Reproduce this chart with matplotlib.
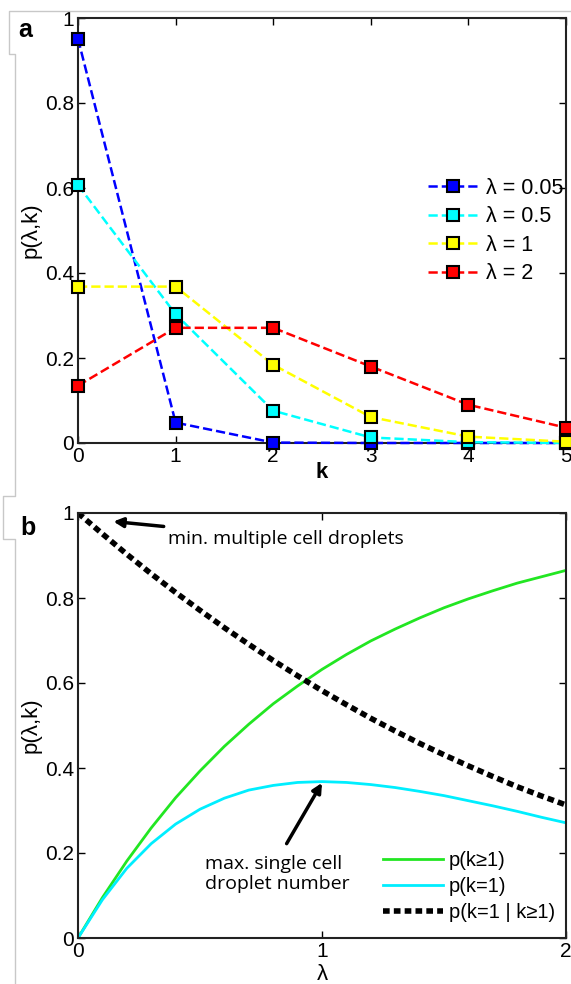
import numpy as np
import matplotlib.pyplot as plt
from matplotlib.lines import Line2D

plt.rcParams['font.family'] = ['Liberation Sans', 'DejaVu Sans']

# panel a: poisson probabilities
k = [0, 1, 2, 3, 4, 5]
lam_labels = ['\u03bb = 0.05', '\u03bb = 0.5', '\u03bb = 1', '\u03bb = 2']
p_005 = [0.951, 0.048, 0.001, 0.0, 0.0, 0.0]
p_05 = [0.607, 0.303, 0.076, 0.013, 0.002, 0.0]
p_1 = [0.368, 0.368, 0.184, 0.061, 0.015, 0.003]
p_2 = [0.135, 0.271, 0.271, 0.180, 0.090, 0.036]
colors_a = ['#0000ff', '#00ffff', '#ffff00', '#ff0000']

# panel b: curves sampled every 0.1
lam = [0.0, 0.1, 0.2, 0.3, 0.4, 0.5, 0.6, 0.7, 0.8, 0.9, 1.0,
       1.1, 1.2, 1.3, 1.4, 1.5, 1.6, 1.7, 1.8, 1.9, 2.0]
p_ge1 = [0, 0.095, 0.181, 0.259, 0.330, 0.393, 0.451, 0.503, 0.551, 0.593, 0.632,
         0.667, 0.699, 0.727, 0.753, 0.777, 0.798, 0.817, 0.835, 0.850, 0.865]
p_eq1 = [0, 0.090, 0.164, 0.222, 0.268, 0.303, 0.329, 0.348, 0.359, 0.366, 0.368,
         0.366, 0.361, 0.354, 0.345, 0.335, 0.323, 0.311, 0.298, 0.284, 0.271]
p_cond = [1.0, 0.951, 0.903, 0.857, 0.813, 0.771, 0.730, 0.691, 0.653, 0.617, 0.582,
          0.549, 0.517, 0.487, 0.458, 0.431, 0.405, 0.380, 0.356, 0.334, 0.313]

W, H = 571, 984
fig = plt.figure(figsize=(W / 100, H / 100), dpi=100)

def px_axes(l, t, r, b):
    return fig.add_axes([l / W, 1 - b / H, (r - l) / W, (b - t) / H])

ax1 = px_axes(78, 18, 566, 443)
ax2 = px_axes(78, 513, 566, 938)

for s, lab, c in zip([p_005, p_05, p_1, p_2], lam_labels, colors_a):
    ax1.plot(k, s, '--', color=c, lw=1.8, marker='s', ms=8.5,
             mfc=c, mec='black', mew=1.5, label=lab, clip_on=False, zorder=3)
ax1.set_xlim(0, 5)
ax1.set_ylim(0, 1)
ax1.set_xticks(k)
ax1.set_yticks([0, 0.2, 0.4, 0.6, 0.8, 1])
ax1.set_yticklabels(['0', '0.2', '0.4', '0.6', '0.8', '1'])
ax1.set_xlabel('k', fontsize=16, fontweight='bold', labelpad=-3)
ax1.set_ylabel('p(\u03bb,k)', fontsize=16, labelpad=2)
ax1.legend(loc='upper right', bbox_to_anchor=(1.035, 0.67), frameon=False, fontsize=15.5,
           handlelength=2.3, handletextpad=0.4, labelspacing=0.35)

ax2.plot(lam, p_ge1, color='#22e622', lw=2, label='p(k\u22651)')
ax2.plot(lam, p_eq1, color='#00eeff', lw=2, label='p(k=1)')
ax2.plot(lam, p_cond, color='black', lw=4, dashes=(1.2, 0.75), label='p(k=1 | k\u22651)')
ax2.set_xlim(0, 2)
ax2.set_ylim(0, 1)
ax2.set_xticks([0, 1, 2])
ax2.set_yticks([0, 0.2, 0.4, 0.6, 0.8, 1])
ax2.set_yticklabels(['0', '0.2', '0.4', '0.6', '0.8', '1'])
ax2.set_xlabel('\u03bb', fontsize=16, labelpad=2)
ax2.set_ylabel('p(\u03bb,k)', fontsize=16, labelpad=2)
ax2.legend(loc='lower right', bbox_to_anchor=(1.015, -0.005), frameon=False, fontsize=14.5,
           handlelength=3.0, handletextpad=0.3, labelspacing=0.35)

ax2.annotate('min. multiple cell droplets', xy=(0.145, 0.98), xytext=(0.37, 0.94),
             fontsize=14, family=['Open Sans', 'DejaVu Sans'], va='center', ha='left',
             arrowprops=dict(arrowstyle='-|>', color='black', lw=2.5, mutation_scale=14,
                             shrinkA=2, shrinkB=0))
ax2.annotate('max. single cell\ndroplet number', xy=(1.0, 0.365), xytext=(0.52, 0.15),
             fontsize=14, family=['Open Sans', 'DejaVu Sans'], va='center', ha='left',
             linespacing=1.15)
ax2.annotate('', xy=(1.0, 0.365), xytext=(0.855, 0.222),
             arrowprops=dict(arrowstyle='-|>', color='black', lw=2.5, mutation_scale=14,
                             shrinkA=0, shrinkB=0))

for ax in (ax1, ax2):
    ax.tick_params(direction='in', top=True, right=True, labelsize=15, length=5,
                   width=1, pad=3)
    for sp in ax.spines.values():
        sp.set_linewidth(1.5)
        sp.set_color('#222222')

fig.text(18 / W, 1 - 30 / H, 'a', fontsize=18, fontweight='bold', va='center')
fig.text(20 / W, 1 - 528 / H, 'b', fontsize=18, fontweight='bold', va='center')

# light gray panel frame lines
gray = '#c8c8c8'
def px_line(xs, ys):
    fig.add_artist(Line2D([x / W for x in xs], [1 - y / H for y in ys],
                          color=gray, lw=1, transform=fig.transFigure))

px_line([571, 9, 9, 15, 15, 3, 3, 15, 15],
        [11, 11, 54, 54, 496, 496, 539, 539, 984])

fig.savefig('out.png', dpi=100)
